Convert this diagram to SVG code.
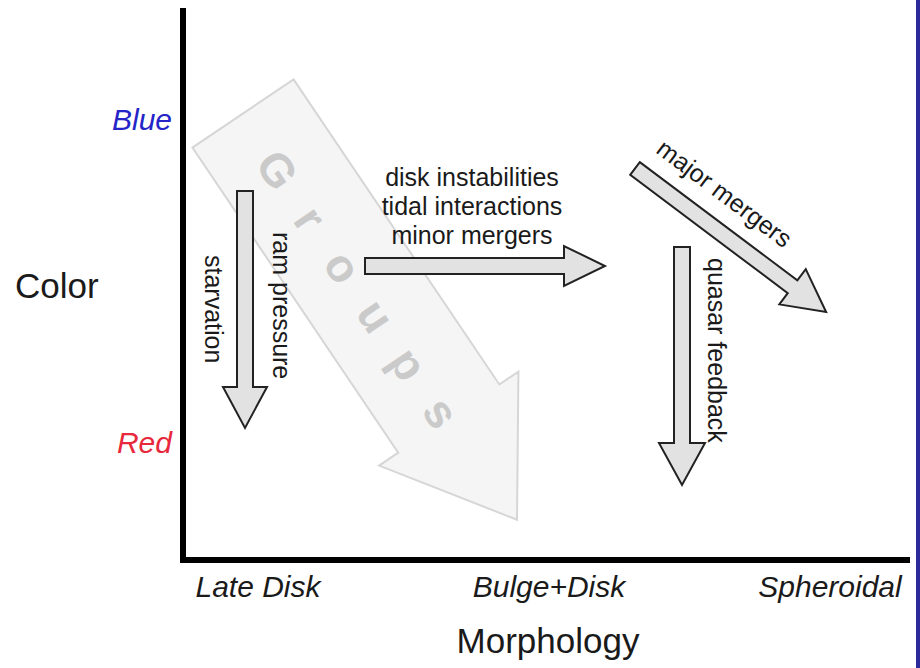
<svg xmlns="http://www.w3.org/2000/svg" width="920" height="668" viewBox="0 0 920 668">
<style>
  .lbl { font-family: "Liberation Sans", Arial, Helvetica, sans-serif; fill: #1a1a1a; }
  .proc { font-size: 25px; }
  .axis-tick { font-size: 30px; font-style: italic; }
  .axis-title { font-size: 35px; }
  .arrow { fill: #e2e2e2; stroke: #222; stroke-width: 2; stroke-linejoin: miter; }
  .groups { fill: #f4f4f4; fill-opacity: 0.9; stroke: #d6d6d6; stroke-width: 2; }
  .groups-text { font-family: "Liberation Sans", Arial, sans-serif; font-size: 46px; font-weight: bold; fill: #cacaca; }
</style>
<rect x="0" y="0" width="920" height="668" fill="#ffffff"/>
<rect id="frame-edge" x="916" y="0" width="4" height="668" fill="#2a2a9c"/>

<g id="groups-arrow" transform="translate(243,113.5) rotate(56)">
  <polygon class="groups" points="0,-61 368,-61 368,-84 490,0 368,84 368,61 0,61"/>
  <text class="groups-text" x="48 116 169 228 286 346" y="19">Groups</text>
</g>

<g id="axes">
  <path d="M183,8 V560 H910" fill="none" stroke="#000" stroke-width="6" stroke-linejoin="miter"/>
</g>

<g id="connectors">
  <g id="starvation-arrow">
    <polygon class="arrow" points="237,191 253,191 253,387 267,387 245,428 223,387 237,387"/>
  </g>
  <g id="minor-arrow">
    <polygon class="arrow" points="365,258 564,258 564,246 605,266 564,286 564,274 365,274"/>
  </g>
  <g id="major-arrow" transform="translate(635,168.5) rotate(36.9)">
    <polygon class="arrow" points="0,-8 197,-8 197,-22 239,0 197,22 197,8 0,8"/>
  </g>
  <g id="quasar-arrow">
    <polygon class="arrow" points="674,247 690,247 690,443 705,443 682,485 659,443 674,443"/>
  </g>
</g>

<g id="labels">
  <g id="label-starvation"><text class="lbl proc" transform="translate(205,255) rotate(90)">starvation</text></g>
  <g id="label-ram"><text class="lbl proc" transform="translate(273,232) rotate(90)">ram pressure</text></g>
  <g id="label-minor">
    <text class="lbl proc" x="472" y="186" text-anchor="middle">disk instabilities</text>
    <text class="lbl proc" x="472" y="215" text-anchor="middle">tidal interactions</text>
    <text class="lbl proc" x="472" y="244" text-anchor="middle">minor mergers</text>
  </g>
  <g id="label-major"><text class="lbl proc" transform="translate(635,168.5) rotate(36.9)" x="6" y="-25">major mergers</text></g>
  <g id="label-quasar"><text class="lbl proc" transform="translate(708,258) rotate(90)">quasar feedback</text></g>
</g>

<g id="axis-labels">
  <text class="lbl axis-tick" x="172" y="130" text-anchor="end" style="fill:#2424c8">Blue</text>
  <text class="lbl axis-tick" x="172" y="453" text-anchor="end" style="fill:#e8283c">Red</text>
  <text class="lbl axis-title" x="15" y="298">Color</text>
  <text class="lbl axis-tick" x="258" y="597" text-anchor="middle">Late Disk</text>
  <text class="lbl axis-tick" x="549" y="597" text-anchor="middle">Bulge+Disk</text>
  <text class="lbl axis-tick" x="830" y="597" text-anchor="middle">Spheroidal</text>
  <text class="lbl axis-title" x="548" y="653" text-anchor="middle">Morphology</text>
</g>
</svg>
